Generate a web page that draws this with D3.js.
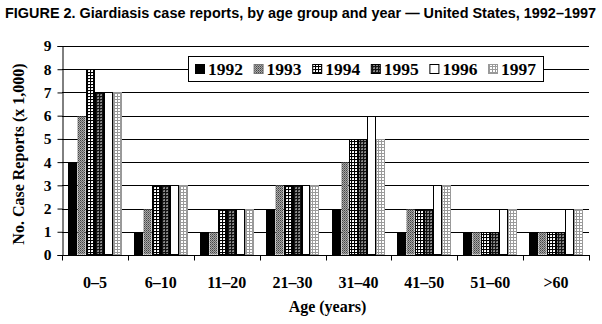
<!DOCTYPE html>
<html><head><meta charset="utf-8">
<script src="https://cdn.jsdelivr.net/npm/d3@7"></script>
<style>body{margin:0;background:#fff}svg{display:block}</style>
</head><body>
<script>
const categories = ["0–5","6–10","11–20","21–30","31–40","41–50","51–60",">60"];
const years = ["1992","1993","1994","1995","1996","1997"];
const v1992 = [4,1,1,2,2,1,1,1];
const v1993 = [6,2,1,3,4,2,1,1];
const v1994 = [8,3,2,3,5,2,1,1];
const v1995 = [7,3,2,3,5,2,1,1];
const v1996 = [7,3,2,3,6,3,2,2];
const v1997 = [7,3,2,3,5,3,2,2];
const yTicks = [0,1,2,3,4,5,6,7,8,9];
const series = [v1992,v1993,v1994,v1995,v1996,v1997];

const W=602,H=324;
const svg=d3.select("body").append("svg").attr("width",W).attr("height",H);
const defs=svg.append("defs");
// patterns
const p93=defs.append("pattern").attr("id","p1993").attr("width",2).attr("height",2).attr("patternUnits","userSpaceOnUse");
p93.append("rect").attr("width",2).attr("height",2).attr("fill","#a8a8a8");
p93.append("rect").attr("width",1).attr("height",1).attr("fill","#444");
p93.append("rect").attr("x",1).attr("y",1).attr("width",1).attr("height",1).attr("fill","#6a6a6a");
const p94=defs.append("pattern").attr("id","p1994").attr("width",3).attr("height",3).attr("patternUnits","userSpaceOnUse");
p94.append("rect").attr("width",3).attr("height",3).attr("fill","#fff");
p94.append("rect").attr("x",1).attr("y",1).attr("width",1).attr("height",1).attr("fill","#ddd");
p94.append("rect").attr("width",3).attr("height",1).attr("fill","#000");
p94.append("rect").attr("width",1).attr("height",3).attr("fill","#000");
const p95=defs.append("pattern").attr("id","p1995").attr("width",3).attr("height",3).attr("patternUnits","userSpaceOnUse");
p95.append("rect").attr("width",3).attr("height",3).attr("fill","#888");
p95.append("rect").attr("x",1).attr("y",1).attr("width",1).attr("height",1).attr("fill","#555");
p95.append("rect").attr("width",3).attr("height",1).attr("fill","#111");
p95.append("rect").attr("width",1).attr("height",3).attr("fill","#111");
const p97=defs.append("pattern").attr("id","p1997").attr("width",3).attr("height",3).attr("patternUnits","userSpaceOnUse");
p97.append("rect").attr("width",3).attr("height",3).attr("fill","#9a9a9a");
p97.append("rect").attr("x",1).attr("y",1).attr("width",2).attr("height",2).attr("fill","#fff");

const fills={"1992":"#000","1993":"url(#p1993)","1994":"url(#p1994)","1995":"url(#p1995)","1996":"#fff","1997":"url(#p1997)"};
const strokes={"1992":"#000","1993":"none","1994":"#000","1995":"#000","1996":"#000","1997":"#999"};

const pLeft=62,pRight=589,pTop=46,pBottom=255;
const x=d3.scaleBand().domain(categories).range([pLeft,pRight]).padding(0);
const xi=d3.scaleBand().domain(years).range([0,x.bandwidth()]).paddingInner(0).paddingOuter(0.68);
const y=d3.scaleLinear().domain([0,9]).range([pBottom,pTop]);
const serif="'Liberation Serif','Times New Roman',serif";

// title
svg.append("text").attr("x",5).attr("y",18)
  .attr("font-family","'Liberation Sans Narrow','Liberation Sans',Arial,sans-serif")
  .attr("font-weight","bold").attr("font-size",14)
  .attr("textLength",591).attr("lengthAdjust","spacingAndGlyphs")
  .text("FIGURE 2. Giardiasis case reports, by age group and year — United States, 1992–1997");

// gridlines
svg.append("g").selectAll("line").data(yTicks.filter(d=>d>0)).join("line")
  .attr("x1",pLeft).attr("x2",pRight).attr("y1",d=>Math.round(y(d))+0.5).attr("y2",d=>Math.round(y(d))+0.5)
  .attr("stroke","#000").attr("stroke-width",1);

// bars
const g=svg.append("g");
categories.forEach((c,ci)=>{
  years.forEach((yr,yi)=>{
    const val=series[yi][ci];
    if(!val) return;
    const x0=Math.round(x(c)+xi(yr));
    const x1=Math.round(x(c)+xi(yr)+xi.bandwidth());
    const y0=Math.round(y(val));
    g.append("rect").attr("x",x0+0.5).attr("y",y0+0.5)
      .attr("width",x1-x0-1).attr("height",pBottom-y0-1)
      .attr("fill",fills[yr]).attr("stroke",strokes[yr]).attr("stroke-width",1);
  });
});

// y axis
const yAxis=d3.axisLeft(y).tickValues(yTicks).tickSize(5).tickPadding(6).tickFormat(d3.format("d"));
const ya=svg.append("g").attr("transform",`translate(${pLeft+0.5},0)`).call(yAxis);
ya.select(".domain").attr("stroke","#000");
ya.selectAll(".tick line").attr("stroke","#000");
ya.selectAll("text").attr("font-family",serif)
  .attr("font-weight","bold").attr("font-size",15.5).attr("fill","#000");

// x axis
const xa=svg.append("g").attr("transform",`translate(0,${pBottom+0.5})`);
xa.append("line").attr("x1",pLeft).attr("x2",pRight+1).attr("stroke","#000");
xa.selectAll("line.t").data(categories.concat(["end"])).join("line").attr("class","t")
  .attr("x1",(d,i)=>Math.round(pLeft+i*x.step())+0.5).attr("x2",(d,i)=>Math.round(pLeft+i*x.step())+0.5)
  .attr("y1",0).attr("y2",5).attr("stroke","#000");
svg.append("g").selectAll("text").data(categories).join("text")
  .attr("x",d=>x(d)+x.bandwidth()/2).attr("y",288).attr("text-anchor","middle")
  .attr("font-family",serif)
  .attr("font-weight","bold").attr("font-size",16).text(d=>d);

// axis titles
svg.append("text").attr("x",(pLeft+pRight)/2+2).attr("y",312).attr("text-anchor","middle")
  .attr("font-family",serif)
  .attr("font-weight","bold").attr("font-size",16).text("Age (years)");
svg.append("text").attr("transform","translate(24,154) rotate(-90)").attr("text-anchor","middle")
  .attr("font-family",serif)
  .attr("font-weight","bold").attr("font-size",16).text("No. Case Reports (x 1,000)");

// legend
const lg=svg.append("g");
lg.append("rect").attr("x",188.5).attr("y",56.5).attr("width",355).attr("height",25)
  .attr("fill","#fff").attr("stroke","#000");
years.forEach((yr,i)=>{
  const lx=195+i*58.6;
  lg.append("rect").attr("x",lx+0.5).attr("y",64.5).attr("width",9).attr("height",9)
    .attr("fill",fills[yr]).attr("stroke",yr==="1997"?"#999":(yr==="1993"?"#777":"#000"));
  lg.append("text").attr("x",lx+13).attr("y",75)
    .attr("font-family",serif)
    .attr("font-weight","bold").attr("font-size",17.5).text(yr);
});
</script>
</body></html>
